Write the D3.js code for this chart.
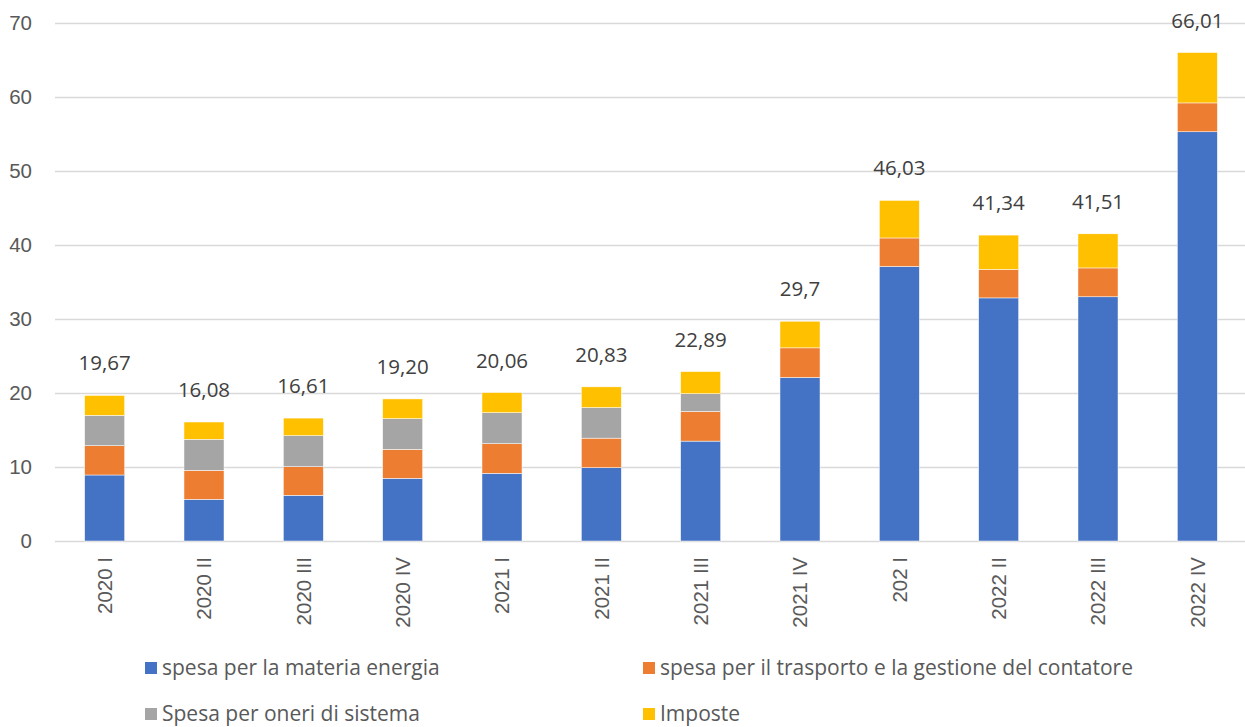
<!DOCTYPE html>
<meta charset="utf-8">

<style>

body {
  margin: 0;
  background: #fff;
}

svg.chart {
  background: #fff;
  font-family: "Open Sans", sans-serif;
}

svg.chart .grid line {
  stroke: #d9d9d9;
  stroke-width: 1.3;
}

svg.chart .axis text {
  fill: #595959;
  font-size: 20.5px;
}

svg.chart text.total {
  fill: #404040;
  font-size: 20.5px;
  text-anchor: middle;
}

svg.chart .legend text {
  fill: #595959;
  font-size: 21px;
}

</style>

<svg class="chart" width="1245" height="727"></svg>

<script src="https://d3js.org/d3.v7.min.js"></script>

<script>

var categories = ["2020 I", "2020 II", "2020 III", "2020 IV", "2021 I", "2021 II",
  "2021 III", "2021 IV", "202 I", "2022 II", "2022 III", "2022 IV"];

var energia   = [8.92, 5.63, 6.18, 8.47, 9.15, 9.90, 13.50, 22.10, 37.10, 32.85, 33.00, 55.30];
var trasporto = [3.96, 3.92, 3.86, 3.92, 4.00, 4.00, 4.00, 4.00, 3.85, 3.85, 3.90, 3.90];
var oneri     = [4.10, 4.19, 4.19, 4.14, 4.19, 4.13, 2.40, 0, 0, 0, 0, 0];
var imposte   = [2.69, 2.34, 2.38, 2.67, 2.72, 2.80, 2.99, 3.60, 5.08, 4.64, 4.61, 6.81];

var totalLabels = ["19,67", "16,08", "16,61", "19,20", "20,06", "20,83",
  "22,89", "29,7", "46,03", "41,34", "41,51", "66,01"];

var seriesNames = ["spesa per la materia energia",
  "spesa per il trasporto e la gestione del contatore",
  "Spesa per oneri di sistema", "Imposte"];
var seriesColors = ["#4472c4", "#ed7d31", "#a5a5a5", "#ffc000"];

var yTicks = [0, 10, 20, 30, 40, 50, 60, 70];

var svg = d3.select("svg.chart");
var margin = {top: 23, left: 55};
var width = 1192;
var height = 518;

var chart = svg.append("g")
  .attr("transform", `translate(${margin.left},${margin.top})`);

var rows = categories.map(function(name, i) {
  return {name: name, s0: energia[i], s1: trasporto[i], s2: oneri[i], s3: imposte[i],
    label: totalLabels[i]};
});

var keys = ["s0", "s1", "s2", "s3"];
var stacked = d3.stack().keys(keys)(rows);

var xScale = d3.scaleBand()
  .domain(categories)
  .range([0, width])
  .paddingInner(0.597)
  .paddingOuter(0.2985);

var yScale = d3.scaleLinear()
  .domain([0, 70])
  .range([height, 0]);

// Gridlines
chart.append("g")
  .attr("class", "grid")
  .selectAll("line")
  .data(yTicks)
  .enter().append("line")
    .attr("x1", 0)
    .attr("x2", width)
    .attr("y1", function(d) { return Math.round(yScale(d)) + 0.5; })
    .attr("y2", function(d) { return Math.round(yScale(d)) + 0.5; });

// Y axis labels
var yAxis = d3.axisLeft(yScale)
  .tickValues(yTicks)
  .tickSize(0)
  .tickPadding(23);

chart.append("g")
  .attr("class", "y axis")
  .call(yAxis)
  .call(function(g) { g.select(".domain").remove(); });

// Bars
chart.selectAll(".series")
  .data(stacked)
  .enter().append("g")
    .attr("class", "series")
    .attr("fill", function(d, i) { return seriesColors[i]; })
  .selectAll("rect")
  .data(function(d) { return d; })
  .enter().append("rect")
    .attr("x", function(d) { return xScale(d.data.name); })
    .attr("y", function(d) { return yScale(d[1]); })
    .attr("width", xScale.bandwidth())
    .attr("height", function(d) { return yScale(d[0]) - yScale(d[1]); })
    .attr("stroke", "#fff")
    .attr("stroke-width", 0.5);

// Totals
chart.selectAll("text.total")
  .data(rows)
  .enter().append("text")
    .attr("class", "total")
    .attr("x", function(d) { return xScale(d.name) + xScale.bandwidth() / 2; })
    .attr("y", function(d) { return yScale(d.s0 + d.s1 + d.s2 + d.s3) - 25; })
    .text(function(d) { return d.label; });

// X axis labels
var xAxis = d3.axisBottom(xScale)
  .tickSize(0)
  .tickPadding(0);

chart.append("g")
  .attr("class", "x axis")
  .attr("transform", `translate(0,${height})`)
  .call(xAxis)
  .call(function(g) { g.select(".domain").remove(); })
  .selectAll("text")
    .attr("transform", "rotate(-90)")
    .attr("x", -16)
    .attr("y", 0)
    .attr("dy", "0.35em")
    .style("text-anchor", "end");

// Legend
var legendPos = [[145, 668], [643, 668], [145, 714], [643, 714]];

var legend = svg.append("g")
  .attr("class", "legend")
  .selectAll("g")
  .data(seriesNames)
  .enter().append("g")
    .attr("transform", function(d, i) { return `translate(${legendPos[i][0]},${legendPos[i][1]})`; });

legend.append("rect")
  .attr("x", 0)
  .attr("y", -6)
  .attr("width", 12)
  .attr("height", 12)
  .attr("fill", function(d, i) { return seriesColors[i]; });

legend.append("text")
  .attr("x", 17)
  .attr("dy", "0.35em")
  .text(function(d) { return d; });

</script>
